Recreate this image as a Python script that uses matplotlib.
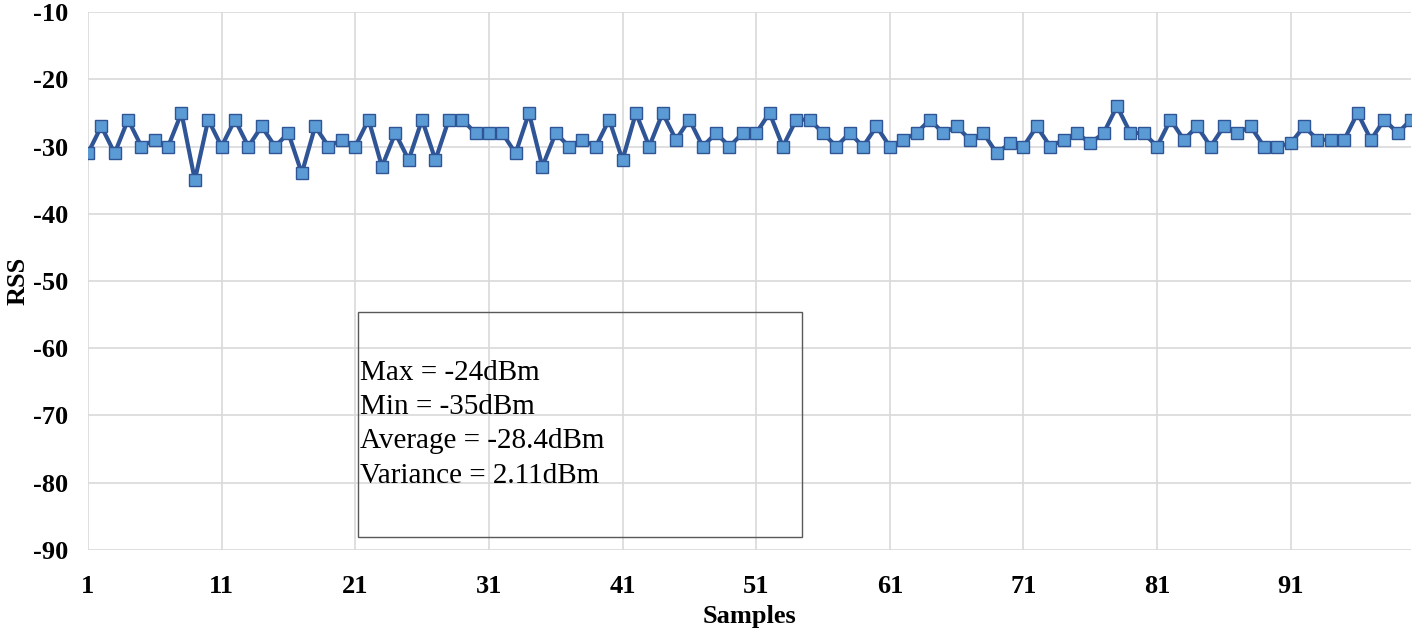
import matplotlib

matplotlib.use("Agg")
import matplotlib.pyplot as plt  # noqa: E402
import numpy as np  # noqa: E402
from matplotlib.patches import Rectangle  # noqa: E402

plt.rcParams["font.family"] = ["Liberation Serif", "DejaVu Serif"]
plt.rcParams["axes.unicode_minus"] = False

# ---------------- data ----------------
samples = np.arange(1, 101)
rss = [
    -31, -27, -31, -26, -30, -29, -30, -25, -35, -26,
    -30, -26, -30, -27, -30, -28, -34, -27, -30, -29,
    -30, -26, -33, -28, -32, -26, -32, -26, -26, -28,
    -28, -28, -31, -25, -33, -28, -30, -29, -30, -26,
    -32, -25, -30, -25, -29, -26, -30, -28, -30, -28,
    -28, -25, -30, -26, -26, -28, -30, -28, -30, -27,
    -30, -29, -28, -26, -28, -27, -29, -28, -31, -29.5,
    -30, -27, -30, -29, -28, -29.5, -28, -24, -28, -28,
    -30, -26, -29, -27, -30, -27, -28, -27, -30, -30,
    -29.5, -27, -29, -29, -29, -25, -29, -26, -28, -26,
]
xticks = [1, 11, 21, 31, 41, 51, 61, 71, 81, 91]
yticks = [-90, -80, -70, -60, -50, -40, -30, -20, -10]
stats_lines = ["Max = -24dBm", "Min = -35dBm", "Average = -28.4dBm", "Variance = 2.11dBm"]

# ---------------- figure ----------------
fig = plt.figure(figsize=(14.16, 6.35), dpi=100)
ax = fig.add_axes([0.0621, 0.134, 0.9344, 0.847])

ax.plot(samples, rss, color="#2F5597", lw=3.0, marker="s", ms=8,
        mfc="#5B9BD5", mec="#2F5597", mew=1.0, zorder=3)

ax.set_xlim(1, 100)
ax.set_ylim(-90, -10)
ax.set_xticks(xticks)
ax.set_yticks(yticks)
ax.grid(True, color="#D9D9D9", lw=1.2, zorder=0)
for s in ax.spines.values():
    s.set_visible(False)
ax.tick_params(length=0, labelsize=19)
ax.tick_params(axis="x", pad=18)
ax.tick_params(axis="y", pad=14)
for lab in ax.get_xticklabels() + ax.get_yticklabels():
    lab.set_fontweight("bold")

ax.set_xlabel("Samples", fontsize=19, fontweight="bold", labelpad=5)
ax.set_ylabel("RSS", fontsize=19, fontweight="bold", labelpad=3)

# statistics box
ax.add_patch(Rectangle((0.204, 0.024), 0.336, 0.418, transform=ax.transAxes,
                       fill=False, ec="#595959", lw=1.0, zorder=4))
for ypos, line in zip([0.329, 0.266, 0.203, 0.138], stats_lines):
    ax.text(0.2055, ypos, line, transform=ax.transAxes, fontsize=21,
            va="center", ha="left", zorder=5)

fig.savefig("out.png", dpi=100)
